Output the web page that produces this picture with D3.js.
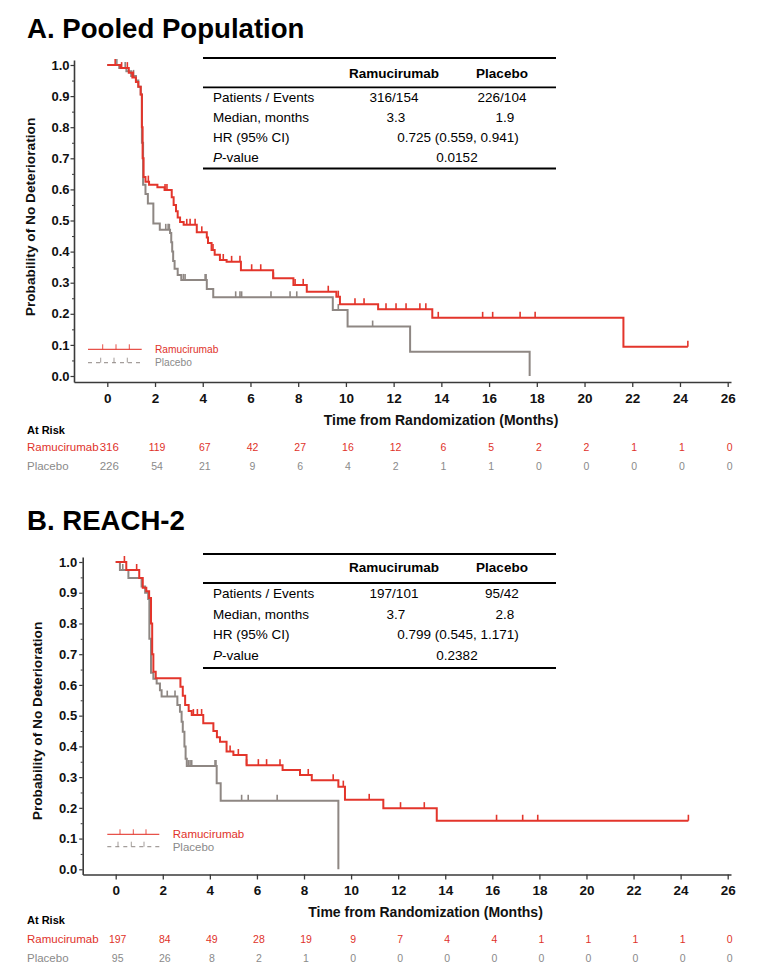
<!DOCTYPE html>
<html><head><meta charset="utf-8">
<script src="https://cdn.jsdelivr.net/npm/d3@7"></script>
<style>body{margin:0;background:#fff}svg{display:block;font-family:Arial,"Liberation Sans",Helvetica,sans-serif}</style>
</head><body><svg id="c" width="759" height="980"></svg>
<script>
// ---------------- DATA ----------------
const xTicks = [0,2,4,6,8,10,12,14,16,18,20,22,24,26];
const yTicks = [0,0.1,0.2,0.3,0.4,0.5,0.6,0.7,0.8,0.9,1.0];
const yMinorTicks = [0.05,0.15,0.25,0.35,0.45,0.55,0.65,0.75,0.85,0.95];
const seriesNames = ["Ramucirumab","Placebo"];
const rowLabels = ["Patients / Events","Median, months","HR (95% CI)","-value"];

// Panel A: Pooled population
const ramA_time = [0,0.55,0.9,1.05,1.2,1.3,1.4,1.45,1.48,1.52,1.6,1.75,2.1,2.4,2.7,2.78,2.88,2.95,3.05,3.2,3.75,4.17,4.22,4.37,4.5,4.72,5.0,5.6,6.95,7.8,8.36,9.6,9.75,11.35,13.62,21.63];
const ramA_surv = [1.0,0.99,0.975,0.96,0.945,0.93,0.905,0.80,0.70,0.64,0.625,0.615,0.607,0.598,0.575,0.55,0.53,0.51,0.495,0.486,0.462,0.445,0.428,0.405,0.39,0.373,0.367,0.34,0.314,0.293,0.271,0.255,0.231,0.215,0.187,0.094];
const ramA_end = 24.33;
const ramA_censor = [0.33,0.6,0.84,1.09,1.72,2.42,2.5,3.33,3.47,3.68,3.96,4.43,4.86,5.21,5.56,6.05,6.43,6.96,7.87,8.21,9.26,9.68,10.38,10.76,11.68,12.1,12.52,13.1,13.35,13.87,15.73,16.15,17.3,17.93,24.33];
const plaA_time = [0,0.5,0.8,1.0,1.2,1.3,1.4,1.45,1.5,1.6,1.7,1.93,2.2,2.63,2.68,2.72,2.76,2.82,2.95,3.1,4.17,4.44,9.45,10.07,12.69,17.7];
const plaA_surv = [1.0,0.99,0.98,0.965,0.95,0.93,0.905,0.75,0.615,0.585,0.555,0.49,0.47,0.46,0.43,0.40,0.37,0.345,0.325,0.309,0.28,0.253,0.212,0.159,0.078,0.0];
const plaA_end = 17.7;
const plaA_censor = [0.4,0.75,1.1,2.45,2.55,2.6,3.19,3.26,4.1,4.14,5.38,5.56,5.63,6.86,7.66,7.94,9.68,11.12];
const riskA_ram = [316,119,67,42,27,16,12,6,5,2,2,1,1,0];
const riskA_pla = [226,54,21,9,6,4,2,1,1,0,0,0,0,0];
const tableA_ram = ["316/154","3.3"];
const tableA_pla = ["226/104","1.9"];
const tableA_hr = "0.725 (0.559, 0.941)";
const tableA_p = "0.0152";

// Panel B: REACH-2
const ramB_time = [0,0.45,1.0,1.15,1.3,1.42,1.5,1.55,1.6,1.7,2.75,2.85,2.95,3.1,3.23,3.72,4.15,4.3,4.43,4.71,5.0,5.56,7.09,7.83,8.33,9.46,9.74,11.37,13.64];
const ramB_surv = [1.0,0.974,0.948,0.916,0.905,0.883,0.80,0.70,0.643,0.622,0.594,0.565,0.535,0.515,0.502,0.475,0.45,0.43,0.415,0.383,0.372,0.339,0.323,0.307,0.29,0.269,0.226,0.199,0.158];
const ramB_end = 24.33;
const ramB_censor = [0.37,0.89,3.3,3.47,3.65,4.86,5.21,5.56,6.06,6.41,6.98,7.83,8.18,9.24,9.67,10.77,12.1,13.11,16.18,17.29,17.93,24.33];
const plaB_time = [0,0.18,0.54,1.1,1.25,1.38,1.43,1.5,1.6,1.74,1.88,1.95,2.62,2.73,2.8,2.85,2.92,2.97,3.02,4.29,4.46,9.46];
const plaB_surv = [1.0,0.974,0.948,0.92,0.9,0.88,0.75,0.64,0.62,0.605,0.583,0.562,0.535,0.513,0.48,0.448,0.40,0.36,0.336,0.28,0.223,0.0];
const plaB_end = 9.46;
const plaB_censor = [0.3,2.19,2.52,3.09,3.16,3.23,4.22,4.26,5.35,5.63,6.86];
const riskB_ram = [197,84,49,28,19,9,7,4,4,1,1,1,1,0];
const riskB_pla = [95,26,8,2,1,0,0,0,0,0,0,0,0,0];
const tableB_ram = ["197/101","3.7"];
const tableB_pla = ["95/42","2.8"];
const tableB_hr = "0.799 (0.545, 1.171)";
const tableB_p = "0.2382";

// ---------------- STYLE / LAYOUT ----------------
const RED = "#e3352b", GREY = "#8e8783", RTXT = "#e0322a", GTXT = "#8a8a8a", AX = "#3a3a3a";
const svg = d3.select("#c");

const panels = [
  { title:"A. Pooled Population", titleY:38,
    x0px:107.3, x26px:727.7, y0px:376, y1px:65, axisXpx:74, axisYpx:382, yTopPx:60, xRightPx:731,
    tblTop:58, tblHeadY:73, tblHeadLine:87.3, tblRows:[97.5,117.3,137,157], tblBottom:168.5,
    xTitleY:420, xTitleX:441, atRiskY:430, riskY:[447,466], firstLarge:true,
    ylabX:30, ylabY:217, tickLabY:11, yLabPad:1,
    leg:{x0:88,x1:141.7,y:[349.3,362.7],tx:155,fs:10.2,ticks:[102.7,116,129.3]},
    ram:[ramA_time,ramA_surv,ramA_end,ramA_censor], pla:[plaA_time,plaA_surv,plaA_end,plaA_censor],
    risk:[riskA_ram,riskA_pla], tbl:[tableA_ram,tableA_pla,tableA_hr,tableA_p] },
  { title:"B. REACH-2", titleY:530,
    x0px:115.7, x26px:727.7, y0px:869.3, y1px:562, axisXpx:82.7, axisYpx:874.5, yTopPx:557, xRightPx:731,
    tblTop:554, tblHeadY:567.5, tblHeadLine:583, tblRows:[593.5,614,634,655], tblBottom:668,
    xTitleY:912, xTitleX:425.5, atRiskY:920, riskY:[939,957.5], firstLarge:false,
    ylabX:37, ylabY:721, tickLabY:10.5, yLabPad:2,
    leg:{x0:107.3,x1:159.3,y:[834.3,846.7],tx:172.7,fs:11.5,ticks:[120,133.3,146]},
    ram:[ramB_time,ramB_surv,ramB_end,ramB_censor], pla:[plaB_time,plaB_surv,plaB_end,plaB_censor],
    risk:[riskB_ram,riskB_pla], tbl:[tableB_ram,tableB_pla,tableB_hr,tableB_p] }
];

function survAt(ts, ss, t){ let s = ss[0]; for (let i=0;i<ts.length;i++){ if (ts[i] <= t + 1e-9) s = ss[i]; } return s; }

panels.forEach(p => {
  const g = svg.append("g");
  const pxPerMonth = (p.x26px - p.x0px)/26;
  const pxPerUnit = (p.y0px - p.y1px);
  const xMin = (p.axisXpx - p.x0px)/pxPerMonth, xMax = (p.xRightPx - p.x0px)/pxPerMonth;
  const yMin = (p.y0px - p.axisYpx)/pxPerUnit, yMax = (p.y0px - p.yTopPx)/pxPerUnit;
  const x = d3.scaleLinear().domain([xMin, xMax]).range([p.axisXpx, p.xRightPx]);
  const y = d3.scaleLinear().domain([yMin, yMax]).range([p.axisYpx, p.yTopPx]);

  // title
  g.append("text").attr("x",27).attr("y",p.titleY).attr("font-size",27.6).attr("font-weight","bold").attr("fill","#000").text(p.title);

  // x axis
  const xa = g.append("g").attr("transform",`translate(0,${p.axisYpx})`)
    .call(d3.axisBottom(x).tickValues(xTicks).tickSize(5).tickSizeOuter(0).tickPadding(p.tickLabY-5).tickFormat(d3.format("d")));
  xa.select(".domain").attr("stroke",AX).attr("stroke-width",1.6);
  xa.selectAll(".tick line").attr("stroke",AX).attr("stroke-width",1.3);
  xa.selectAll("text").attr("font-size",13.5).attr("font-weight","bold").attr("fill","#111").attr("font-family","Arial, Liberation Sans, sans-serif");

  // y axis
  const ya = g.append("g").attr("transform",`translate(${p.axisXpx},0)`)
    .call(d3.axisLeft(y).tickValues(yTicks).tickSize(3.5).tickSizeOuter(0).tickPadding(p.yLabPad).tickFormat(d3.format(".1f")));
  ya.select(".domain").attr("stroke",AX).attr("stroke-width",1.6);
  ya.selectAll(".tick line").attr("stroke",AX).attr("stroke-width",1.2);
  ya.selectAll("text").attr("font-size",13).attr("font-weight","bold").attr("fill","#111").attr("font-family","Arial, Liberation Sans, sans-serif");
  const ym = g.append("g").attr("transform",`translate(${p.axisXpx},0)`)
    .call(d3.axisLeft(y).tickValues(yMinorTicks).tickSize(2).tickFormat(""));
  ym.select(".domain").remove();
  ym.selectAll(".tick line").attr("stroke",AX).attr("stroke-width",1);

  // axis titles
  g.append("text").attr("x",p.xTitleX).attr("y",p.xTitleY).attr("text-anchor","middle").attr("dominant-baseline","central")
    .attr("font-size",14).attr("font-weight","bold").attr("fill","#111").text("Time from Randomization (Months)");
  g.append("text").attr("transform",`translate(${p.ylabX},${p.ylabY}) rotate(-90)`).attr("text-anchor","middle").attr("dominant-baseline","central")
    .attr("font-size",13.7).attr("font-weight","bold").attr("fill","#111").text("Probability of No Deterioration");

  // curves
  const line = d3.line().x(d=>x(d[0])).y(d=>y(d[1])).curve(d3.curveStepAfter);
  [[p.pla,GREY],[p.ram,RED]].forEach(([c,col]) => {
    const [ts, ss, end, cens] = c;
    const pts = ts.map((t,i)=>[t, ss[i]]);
    pts.push([end, ss[ss.length-1]]);
    g.append("path").attr("d",line(pts)).attr("fill","none").attr("stroke",col).attr("stroke-width",2);
    g.selectAll(null).data(cens).enter().append("line")
      .attr("x1",d=>x(d)).attr("x2",d=>x(d))
      .attr("y1",d=>y(survAt(ts,ss,d))).attr("y2",d=>y(survAt(ts,ss,d))-6)
      .attr("stroke",col).attr("stroke-width",1.6);
  });

  // legend
  const L = p.leg;
  g.append("line").attr("x1",L.x0).attr("x2",L.x1).attr("y1",L.y[0]).attr("y2",L.y[0]).attr("stroke",RED).attr("stroke-width",1.2).attr("opacity",0.85);
  L.ticks.forEach(tx => g.append("line").attr("x1",tx).attr("x2",tx).attr("y1",L.y[0]).attr("y2",L.y[0]-5).attr("stroke",RED).attr("stroke-width",1).attr("opacity",0.85));
  g.append("line").attr("x1",L.x0).attr("x2",L.x1).attr("y1",L.y[1]).attr("y2",L.y[1]).attr("stroke",GREY).attr("stroke-width",1.2).attr("stroke-dasharray","4,4").attr("opacity",0.8);
  L.ticks.forEach(tx => g.append("line").attr("x1",tx-2).attr("x2",tx-2).attr("y1",L.y[1]).attr("y2",L.y[1]-5).attr("stroke",GREY).attr("stroke-width",1).attr("opacity",0.8));
  g.append("text").attr("x",L.tx).attr("y",L.y[0]).attr("dominant-baseline","central").attr("font-size",L.fs).attr("fill",RTXT).text(seriesNames[0]);
  g.append("text").attr("x",L.tx).attr("y",L.y[1]).attr("dominant-baseline","central").attr("font-size",L.fs).attr("fill",GTXT).text(seriesNames[1]);

  // summary table
  const tx0 = 203, tx1 = 556;
  [[p.tblTop,2],[p.tblHeadLine,1.8],[p.tblBottom,2]].forEach(([yy,w]) =>
    g.append("line").attr("x1",tx0).attr("x2",tx1).attr("y1",yy).attr("y2",yy).attr("stroke","#000").attr("stroke-width",w));
  const colX = [394, 502];
  seriesNames.forEach((n,i)=> g.append("text").attr("x",colX[i]).attr("y",p.tblHeadY).attr("text-anchor","middle").attr("dominant-baseline","central")
    .attr("font-size",13.5).attr("font-weight","bold").attr("fill","#000").text(n));
  rowLabels.forEach((r,i)=>{
    const t = g.append("text").attr("x",213).attr("y",p.tblRows[i]).attr("dominant-baseline","central").attr("font-size",13.5).attr("fill","#000");
    if (i===3){ t.append("tspan").attr("font-style","italic").text("P"); t.append("tspan").text(r); }
    else t.text(r);
  });
  const [tr, tp, thr, tpv] = p.tbl;
  [0,1].forEach(i=>{
    g.append("text").attr("x",colX[0]+(i===1?2:0)).attr("y",p.tblRows[i]).attr("text-anchor","middle").attr("dominant-baseline","central").attr("font-size",13.5).text(tr[i]);
    g.append("text").attr("x",colX[1]+(i===1?3:0)).attr("y",p.tblRows[i]).attr("text-anchor","middle").attr("dominant-baseline","central").attr("font-size",13.5).text(tp[i]);
  });
  g.append("text").attr("x",458).attr("y",p.tblRows[2]).attr("text-anchor","middle").attr("dominant-baseline","central").attr("font-size",13.5).text(thr);
  g.append("text").attr("x",457).attr("y",p.tblRows[3]).attr("text-anchor","middle").attr("dominant-baseline","central").attr("font-size",13.5).text(tpv);

  // at-risk table
  g.append("text").attr("x",27).attr("y",p.atRiskY).attr("dominant-baseline","central").attr("font-size",11).attr("font-weight","bold").attr("fill","#000").text("At Risk");
  seriesNames.forEach((n,k)=>{
    const col = k===0?RTXT:GTXT;
    g.append("text").attr("x",27).attr("y",p.riskY[k]).attr("dominant-baseline","central").attr("font-size",11.5).attr("fill",col).text(n);
    g.selectAll(null).data(p.risk[k]).enter().append("text")
      .attr("x",(d,i)=>x(xTicks[i])+2).attr("y",p.riskY[k]).attr("text-anchor","middle").attr("dominant-baseline","central")
      .attr("font-size",(d,i)=> (i===0 && p.firstLarge)?11.5:10.5).attr("fill",col).text(d=>d);
  });
});
</script></body></html>
